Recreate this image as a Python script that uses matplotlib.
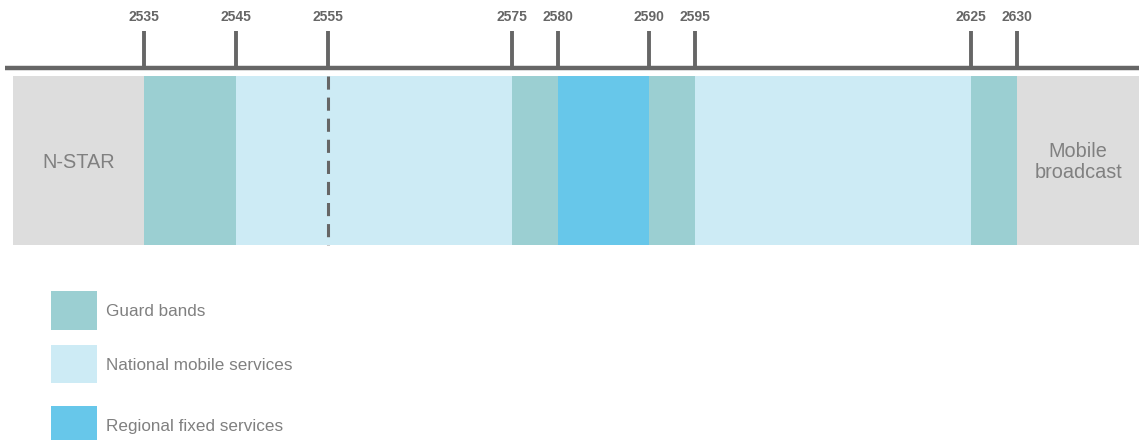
import matplotlib
matplotlib.use('Agg')
import matplotlib.pyplot as plt
from matplotlib.patches import Rectangle

plt.rcParams['font.family'] = ['Liberation Sans', 'DejaVu Sans']

# Band plan (MHz): start, end, kind
band_start = [2520.7, 2535, 2545, 2575, 2580, 2590, 2595, 2625, 2630]
band_end = [2535, 2545, 2575, 2580, 2590, 2595, 2625, 2630, 2643.3]
band_kind = ['other', 'guard', 'national', 'guard', 'regional', 'guard',
             'national', 'guard', 'other']
band_text = ['N-STAR', '', '', '', '', '', '', '', 'Mobile\nbroadcast']

tick_freqs = [2535, 2545, 2555, 2575, 2580, 2590, 2595, 2625, 2630]
split_freq = 2555  # dashed divider inside the national block

legend_kinds = ['guard', 'national', 'regional']
legend_labels = ['Guard bands', 'National mobile services', 'Regional fixed services']

colors = {
    'guard': '#9bcfd2',
    'national': '#cdebf5',
    'regional': '#67c7ea',
    'other': '#dddddd',
}
dark = '#666666'
text_grey = '#808080'

W, H = 1139, 440
fig = plt.figure(figsize=(W / 100, H / 100), dpi=100)
fig.patch.set_facecolor('white')

# main axes: x in MHz, y in pixel rows (top = 0)
ax = fig.add_axes([0, 0, 1, 1])
ax.set_xlim(2519.33, 2643.28)
ax.set_ylim(H, 0)
ax.axis('off')

band_top, band_bot = 76, 245
for s, e, k, t in zip(band_start, band_end, band_kind, band_text):
    ax.add_patch(Rectangle((s, band_top), e - s, band_bot - band_top,
                           facecolor=colors[k], edgecolor='none'))
    if t:
        ax.text((s + e) / 2, 162, t, ha='center', va='center',
                fontsize=14.3, color=text_grey, linespacing=1.15)

ax.plot([split_freq, split_freq], [band_top, band_bot], color=dark,
        lw=2.2, ls=(0, (4.3, 2.6)), solid_capstyle='butt')

# frequency axis line with tick marks above
ax.plot([2519.87, 2643.28], [68, 68], color=dark, lw=3.2, solid_capstyle='butt')
for f in tick_freqs:
    ax.plot([f, f], [31, 68], color=dark, lw=2.8, solid_capstyle='butt')
    ax.text(f, 17, str(f), ha='center', va='center', fontsize=10,
            fontweight='bold', color=dark)

# legend, laid out in pixel units
lax = fig.add_axes([0, 0, 1, 1])
lax.set_xlim(0, W)
lax.set_ylim(H, 0)
lax.axis('off')
legend_rows = [(291, 330, 312), (345, 383, 365), (406, 440, 427)]
for k, lab, (y0, y1, yt) in zip(legend_kinds, legend_labels, legend_rows):
    lax.add_patch(Rectangle((51, y0), 46, y1 - y0, facecolor=colors[k],
                            edgecolor='none'))
    lax.text(106, yt, lab, ha='left', va='center', fontsize=12.3, color=text_grey)

fig.savefig('out.png', dpi=100)
